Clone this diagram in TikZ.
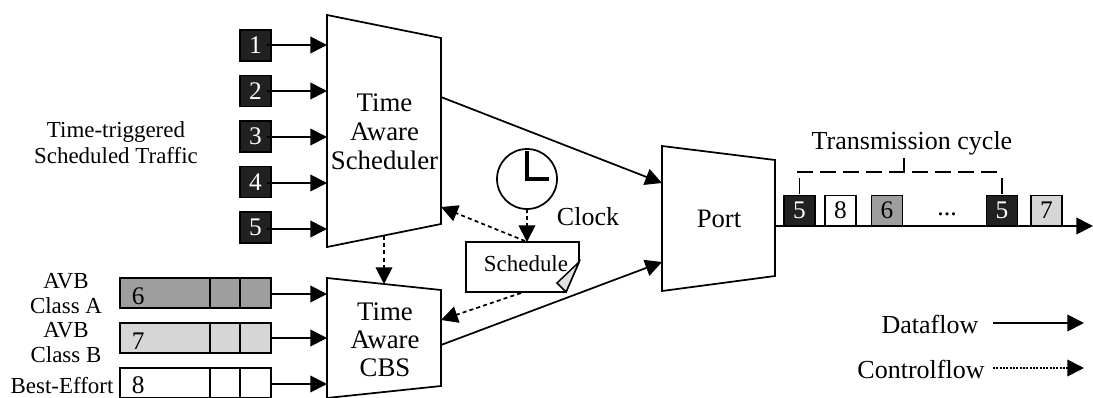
\documentclass[tikz,border=0pt]{standalone}
\usepackage{fontspec}
\setmainfont{Liberation Serif}
\usetikzlibrary{arrows.meta,calc}
\newcommand{\fs}[1]{\fontsize{#1}{#1}\selectfont}
\tikzset{
  x=0.75pt,y=-0.75pt,
  every node/.style={inner sep=0pt,outer sep=0pt},
  txt/.style={font=\fs{17.2pt},align=center,anchor=center},
  bigtxt/.style={txt,font=\fs{19.5pt}},
  shapeline/.style={draw=black,line width=1.3pt,line join=miter},
  flow/.style={draw=black,line width=1.3pt,-{Triangle[length=12.5pt,width=12.5pt]}},
  ctrl/.style={flow,dash pattern=on 3pt off 2.4pt},
  legendctrl/.style={flow,dash pattern=on 1.5pt off 1pt},
  sq/.style={draw=black,line width=1.2pt,minimum width=23pt,minimum height=23pt,font=\fs{19pt}},
  dark/.style={sq,fill=black!87,text=white},
  mid/.style={sq,fill=black!38},
  lite/.style={sq,fill=black!16},
  wht/.style={sq,fill=white},
  queue/.style={draw=black,line width=1.3pt,minimum width=113pt,minimum height=22.5pt},
  tick/.style={draw=black,line width=1.2pt},
}
\newcommand{\dg}[1]{\raisebox{-2.6pt}{#1}}
\begin{document}
\begin{tikzpicture}
\useasboundingbox (0,0) rectangle (1093,397);
\clip (0,0) rectangle (1093,397);
% trapezoids
\draw[shapeline] (327,15) -- (441,38) -- (441,224) -- (327,247) -- cycle;
\draw[shapeline] (327,278) -- (441,290) -- (441,386) -- (327,398) -- cycle;
\draw[shapeline] (662,146) -- (775,160) -- (775,276) -- (662,291) -- cycle;
\node[txt,font=\fs{20.1pt}] (tas) at (384.5,132) {Time\\[1.7pt]Aware\\[1.7pt]Scheduler};
\node[txt,font=\fs{20.1pt}] (cbs) at (385,340) {Time\\[1pt]Aware\\[1pt]CBS};
\node[bigtxt,font=\fs{20pt}] (port) at (719,219) {Port};
\coordinate (t1) at (327,45); \coordinate (t2) at (327,91); \coordinate (t3) at (327,137);
\coordinate (t4) at (327,183); \coordinate (t5) at (327,229);
\coordinate (c6) at (327,294); \coordinate (c7) at (327,338); \coordinate (c8) at (327,384);
\coordinate (tasout) at (441,97); \coordinate (tasin) at (441,207); \coordinate (tasbot) at (384,236);
\coordinate (cbstop) at (384,284); \coordinate (cbsin) at (441,320); \coordinate (cbsout) at (441,345);
\coordinate (pin1) at (662,183); \coordinate (pin2) at (662,262);
\coordinate (pout) at (775,226); \coordinate (lineend) at (1093,226);
% stream boxes
\foreach \n/\y in {1/45.5,2/91,3/136.5,4/182,5/227.5}{
  \node[dark] (b\n) at (255.5,\y) {\dg{\n}};
  \draw[flow] ([xshift=-3pt]b\n.east |- t\n) -- (t\n);
}
\node[txt] (ttlabel) at (116,142.5) {Time-triggered\\[2pt]Scheduled Traffic};
% queues
\node[queue,fill=black!38] (q6) at (195.5,293) {};
\node[queue,fill=black!16] (q7) at (195.5,338) {};
\node[queue,fill=white] (q8) at (195.5,383) {};
\foreach \q/\s in {6/-2.7pt,7/-2.7pt,8/-1.6pt}{
  \draw[tick,line width=1.3pt] ([xshift=67.5pt]q\q.south west) -- ([xshift=67.5pt]q\q.north west);
  \draw[tick,line width=1.3pt] ([xshift=90pt]q\q.south west) -- ([xshift=90pt]q\q.north west);
  \draw[flow] (q\q.east |- c\q) -- (c\q);
  \node[font=\fs{19pt}] (n\q) at ([xshift=13.5pt,yshift=\s]q\q.west) {\q};
}
\node[txt] (la) at (66,293.5) {AVB\\[1.5pt]Class A};
\node[txt] (lb) at (66,343) {AVB\\[1.5pt]Class B};
\node[txt] (lc) at (62,386) {Best-Effort};
% clock
\node[draw=black,line width=1.3pt,circle,minimum size=45pt] (clock) at (527,179) {};
\draw[line width=2.6pt] (clock.center) ++(0,-28) |- ++(22,28);
\node[bigtxt] (clocklabel) at (588,217) {Clock};
% schedule
\draw[shapeline] (466,242) -- (579,242) -- (579,262) -- (566,292) -- (466,292) -- cycle;
\draw[shapeline,line width=1.1pt,fill=black!12] (579,262) -- (557,283) -- (566,292) -- cycle;
\node[txt] (sched) at (526,264) {Schedule};
\coordinate (schedtop) at (527,242); \coordinate (schedtl) at (525,241);
\coordinate (schedbot) at (521,293);
% connectors
\draw[flow] (tasout) -- (pin1);
\draw[flow] (cbsout) -- (pin2);
\draw[ctrl] (clock.south) -- (schedtop);
\draw[ctrl] (schedtl) -- (tasin);
\draw[ctrl] (schedbot) -- (cbsin);
\draw[ctrl] (tasbot) -- (cbstop);
% output line
\draw[flow] (pout) -- (lineend);
\node[dark,anchor=south] (p1) at (799.5,226) {\dg{5}};
\node[wht,anchor=south] (p2) at (840.5,226) {\dg{8}};
\node[mid,anchor=south] (p3) at (887,226) {\dg{6}};
\node[dark,anchor=south] (p4) at (1002,226) {\dg{5}};
\node[lite,anchor=south] (p5) at (1046.5,226) {\dg{7}};
\node[bigtxt] (dots) at (947,214) {...};
\node[bigtxt] (tc) at (912,143) {Transmission cycle};
\coordinate (cl) at (797,172); \coordinate (cr) at (1003,172); \coordinate (cm) at (904,172);
\draw[line width=1.2pt,dash pattern=on 12pt off 5.25pt] (cl) -- (cr);
\draw[tick] (cm) -- (904,158);
\draw[tick] (p1.north) ++(0,-1) -- ++(0,-16);
\draw[tick] (p4.north) ++(0,-1) -- ++(0,-16);
% legend
\node[bigtxt] (df) at (930,324) {Dataflow};
\node[bigtxt] (cf) at (921,369) {Controlflow};
\coordinate (dfe) at (1084,323); \coordinate (cfe) at (1084,368);
\draw[flow] (993,323) -- (dfe);
\draw[legendctrl] (993,368) -- (cfe);
\end{tikzpicture}
\end{document}
